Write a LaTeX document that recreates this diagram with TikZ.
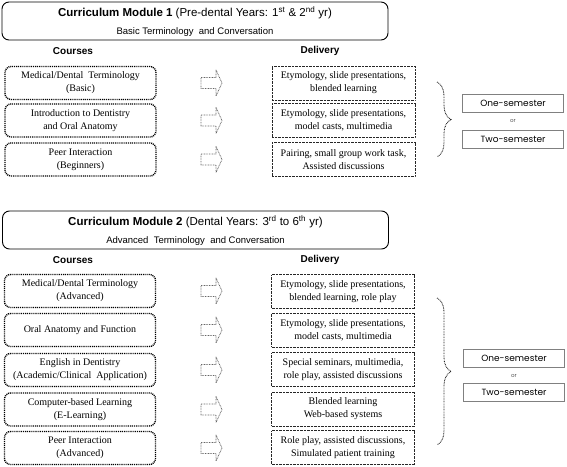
\documentclass[tikz,border=0pt]{standalone}
\usepackage{fontspec}
\setmainfont{Liberation Serif}
\newfontfamily\headfont{Liberation Sans}
\newfontfamily\semfont{Poppins}
\usetikzlibrary{calc,decorations.pathreplacing}

\tikzset{
  header/.style={draw, line width=0.9pt, rounded corners=7pt, minimum width=386pt, minimum height=38pt, inner sep=0pt},
  titletext/.style={font=\headfont\fontsize{11.5}{13}\selectfont, inner sep=0pt},
  subtext/.style={font=\headfont\fontsize{9.5}{11}\selectfont, inner sep=0pt},
  colhead/.style={font=\headfont\bfseries\fontsize{10}{12}\selectfont, inner sep=0pt},
  course/.style={draw, line width=1.4pt, dash pattern=on 1pt off 0.9pt, rounded corners=6pt,
    minimum width=151pt, minimum height=33pt, inner sep=1pt, align=center, font=\rmfamily\fontsize{10}{13}\selectfont},
  delivery/.style={draw=black!85, line width=0.7pt, dash pattern=on 0.7pt off 0.7pt,
    minimum width=143pt, minimum height=34pt, inner sep=1pt, align=center, font=\rmfamily\fontsize{10}{13}\selectfont},
  arrowline/.style={draw=black!60, line width=0.8pt, dash pattern=on 0.8pt off 0.8pt, line join=round},
  semester/.style={draw=gray, line width=0.6pt, minimum width=101pt, minimum height=18pt, inner sep=0pt,
    font=\semfont\fontsize{9}{11}\selectfont},
  ortext/.style={font=\semfont\fontsize{5.5}{6}\selectfont, text=black!70, inner sep=0pt},
  bracket/.style={decorate, decoration={brace, amplitude=14pt}, draw=black!85, line width=0.9pt, dash pattern=on 0.8pt off 0.8pt}
}

% outlined block arrow around a named coordinate
\newcommand{\blockarrow}[1]{%
  \draw[arrowline] ($(#1)+(-10.5,-5.5)$) -- ($(#1)+(4.5,-5.5)$) -- ($(#1)+(4.5,-13)$)
    -- ($(#1)+(10.5,0)$) -- ($(#1)+(4.5,13)$) -- ($(#1)+(4.5,5.5)$) -- ($(#1)+(-10.5,5.5)$) -- cycle;}

\begin{document}
\begin{tikzpicture}[x=1pt,y=-1pt]
    \useasboundingbox (0,0) rectangle (567,466);

    % Module 1 heading
    \node[header] (m1) at (195,21) {};
    \node[titletext] (t1) at ($(m1.north)+(0,11)$) {\textbf{Curriculum Module 1} (Pre-dental Years: 1\textsuperscript{st} \& 2\textsuperscript{nd} yr)};
    \node[subtext] (s1) at ($(m1.north)+(0,30)$) {Basic Terminology\ \ and Conversation};
    \node[colhead] (cc1) at (73,51) {Courses};
    \node[colhead] (dd1) at (320,51) {Delivery};

    % Module 1 courses
    \node[course] (c11) at (80.5,83) {Medical/Dental\ \ Terminology\\(Basic)};
    \node[course] (c12) at (80.5,120.5) {Introduction to Dentistry\\and Oral Anatomy};
    \node[course] (c13) at (80.5,159.5) {Peer Interaction\\(Beginners)};

    % Module 1 delivery
    \node[delivery] (d11) at (343.5,83) {Etymology, slide presentations,\\blended learning};
    \node[delivery] (d12) at (343.5,120.5) {Etymology, slide presentations,\\model casts, multimedia};
    \node[delivery] (d13) at (343.5,159.5) {Pairing, small group work task,\\Assisted discussions};

    % Module 1 arrows
    \coordinate (a11) at (211.5,0 |- c11);
    \coordinate (a12) at (211.5,0 |- c12);
    \coordinate (a13) at (211.5,0 |- c13);
    \blockarrow{a11}
    \blockarrow{a12}
    \blockarrow{a13}

    % Module 1 semesters
    \coordinate (b1t) at (437,82);
    \coordinate (b1b) at (437,157);
    \draw[bracket] (b1t) -- (b1b);
    \node[semester] (o1) at (513,103.5) {One-semester};
    \node[ortext] (or1) at (513,121) {or};
    \node[semester] (w1) at (513,139) {Two-semester};

    % Module 2 heading
    \node[header] (m2) at (195.5,230) {};
    \node[titletext] (t2) at ($(m2.north)+(0,11)$) {\textbf{Curriculum Module 2} (Dental Years: 3\textsuperscript{rd} to 6\textsuperscript{th} yr)};
    \node[subtext] (s2) at ($(m2.north)+(0,30)$) {Advanced\ \ Terminology\ \ and Conversation};
    \node[colhead] (cc2) at (73,260) {Courses};
    \node[colhead] (dd2) at (320,260) {Delivery};

    % Module 2 courses
    \node[course] (c21) at (80,291) {Medical/Dental Terminology\\(Advanced)};
    \node[course] (c22) at (80,330) {Oral Anatomy and Function};
    \node[course] (c23) at (80,370) {English in Dentistry\\(Academic/Clinical\ \ Application)};
    \node[course] (c24) at (80,409.5) {Computer-based Learning\\(E-Learning)};
    \node[course] (c25) at (80,448) {Peer Interaction\\(Advanced)};

    % Module 2 delivery
    \node[delivery] (d21) at (343,291.5) {Etymology, slide presentations,\\blended learning, role play};
    \node[delivery] (d22) at (343,330) {Etymology, slide presentations,\\model casts, multimedia};
    \node[delivery] (d23) at (343,369.5) {Special seminars, multimedia,\\role play, assisted discussions};
    \node[delivery] (d24) at (343,409) {Blended learning\\Web-based systems};
    \node[delivery] (d25) at (343,447.5) {Role play, assisted discussions,\\Simulated patient training};

    % Module 2 arrows
    \coordinate (a21) at (211.5,0 |- c21);
    \coordinate (a22) at (211.5,0 |- c22);
    \coordinate (a23) at (211.5,0 |- c23);
    \coordinate (a24) at (211.5,0 |- c24);
    \coordinate (a25) at (211.5,0 |- c25);
    \blockarrow{a21}
    \blockarrow{a22}
    \blockarrow{a23}
    \blockarrow{a24}
    \blockarrow{a25}

    % Module 2 semesters
    \coordinate (b2t) at (437,298);
    \coordinate (b2b) at (437,445);
    \draw[bracket] (b2t) -- (b2b);
    \node[semester] (o2) at (514,358.5) {One-semester};
    \node[ortext] (or2) at (514,376) {or};
    \node[semester] (w2) at (514,392.5) {Two-semester};
\end{tikzpicture}
\end{document}
